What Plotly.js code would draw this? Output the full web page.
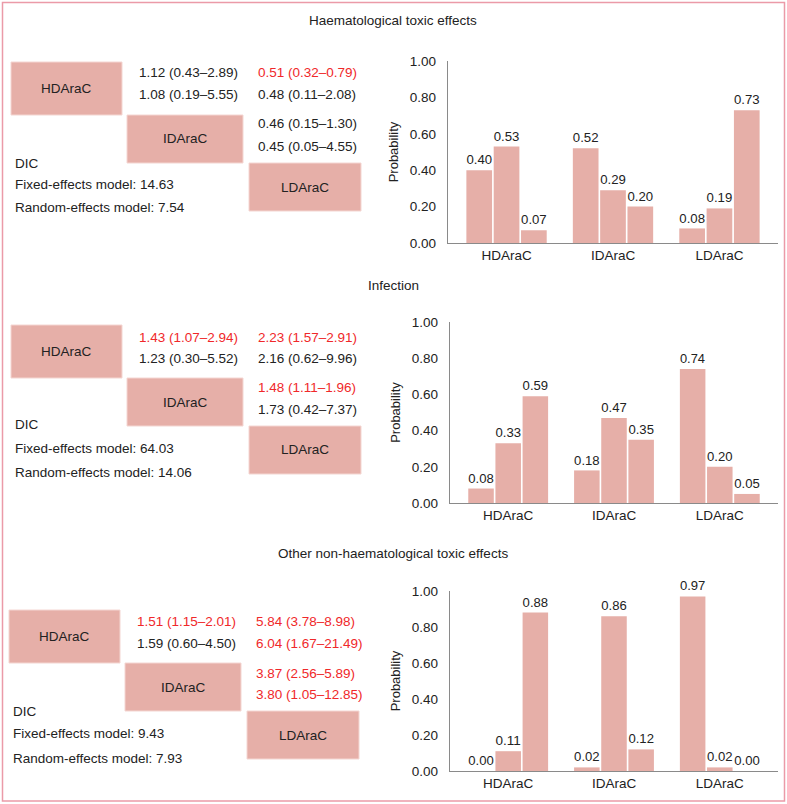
<!DOCTYPE html>
<html>
<head>
<meta charset="utf-8">
<script src="https://cdn.plot.ly/plotly-3.0.1.min.js"></script>
<style>
  html, body { margin: 0; padding: 0; background: #fff; }
  #chart { width: 787px; height: 804px; }
</style>
</head>
<body>
<div id="chart"></div>
<script>
// ---------- data ----------
const treatments = ['HDAraC', 'IDAraC', 'LDAraC'];
const panelTitles = ['Haematological toxic effects', 'Infection', 'Other non-haematological toxic effects'];

// probability of each rank (1st, 2nd, 3rd) per treatment
const haemRank1 = [0.40, 0.52, 0.08];
const haemRank2 = [0.53, 0.29, 0.19];
const haemRank3 = [0.07, 0.20, 0.73];

const infRank1 = [0.08, 0.18, 0.74];
const infRank2 = [0.33, 0.47, 0.20];
const infRank3 = [0.59, 0.35, 0.05];

const othRank1 = [0.00, 0.02, 0.97];
const othRank2 = [0.11, 0.86, 0.02];
const othRank3 = [0.88, 0.12, 0.00];

// league table texts: [HD vs ID fixed, HD vs ID random, HD vs LD fixed, HD vs LD random, ID vs LD fixed, ID vs LD random]
const haemLeague = ['1.12 (0.43–2.89)', '1.08 (0.19–5.55)', '0.51 (0.32–0.79)', '0.48 (0.11–2.08)', '0.46 (0.15–1.30)', '0.45 (0.05–4.55)'];
const haemSig    = [false, false, true, false, false, false];
const infLeague  = ['1.43 (1.07–2.94)', '1.23 (0.30–5.52)', '2.23 (1.57–2.91)', '2.16 (0.62–9.96)', '1.48 (1.11–1.96)', '1.73 (0.42–7.37)'];
const infSig     = [true, false, true, false, true, false];
const othLeague  = ['1.51 (1.15–2.01)', '1.59 (0.60–4.50)', '5.84 (3.78–8.98)', '6.04 (1.67–21.49)', '3.87 (2.56–5.89)', '3.80 (1.05–12.85)'];
const othSig     = [true, false, true, true, true, true];

const dicFixed  = ['14.63', '64.03', '9.43'];
const dicRandom = ['7.54', '14.06', '7.93'];

// ---------- styling ----------
const W = 787, H = 804;
const BAR = '#e6afa8';
const RED = '#f0282a';
const INK = '#222222';
const FONT = 'Liberation Sans, Arial, sans-serif';
const px = x => x / W;
const py = y => 1 - y / H;

const panels = [
  { r: [haemRank1, haemRank2, haemRank3], league: haemLeague, sig: haemSig,
    top: 61, bot: 243, xl: 448, titleY: 20, off: 0, lx: 0 },
  { r: [infRank1, infRank2, infRank3], league: infLeague, sig: infSig,
    top: 322, bot: 503, xl: 450, titleY: 285, off: 0, lx: 0 },
  { r: [othRank1, othRank2, othRank3], league: othLeague, sig: othSig,
    top: 591, bot: 771, xl: 450, titleY: 553, off: 0, lx: -2 }
];

// left-panel geometry per panel (box tops)
const geo = [
  { hdTop: 62, boxH: 53, txt: [72, 95, 124, 146], dic: [163, 184, 208] },
  { hdTop: 325, boxH: 53, txt: [337, 358, 387, 409], dic: [425, 448, 472] },
  { hdTop: 610, boxH: 53, txt: [621, 643, 673, 694], dic: [711, 733, 758] }
];

const data = [];
const layout = {
  width: W, height: H,
  margin: { l: 0, r: 0, t: 0, b: 0 },
  paper_bgcolor: '#fff', plot_bgcolor: '#fff',
  showlegend: false,
  barmode: 'group', bargap: 0.23, bargroupgap: 0.06,
  font: { family: FONT, size: 13.5, color: INK },
  shapes: [], annotations: []
};

panels.forEach((p, i) => {
  const n = i === 0 ? '' : String(i + 1);
  p.r.forEach((vals, k) => {
    data.push({
      type: 'bar', x: treatments, y: vals,
      xaxis: 'x' + n, yaxis: 'y' + n,
      marker: { color: BAR, line: { width: 0 } },
      text: vals.map(v => v.toFixed(2)), textposition: 'outside',
      textfont: { family: FONT, size: 13.5, color: INK },
      cliponaxis: false, hoverinfo: 'skip', name: 'Rank ' + (k + 1)
    });
  });
  layout['xaxis' + n] = {
    domain: [px(p.xl), px(778)], anchor: 'y' + n,
    range: [-0.55, 2.55], showline: true, linecolor: '#8a8a8a', linewidth: 1.2,
    ticks: '', showgrid: false, zeroline: false,
    tickfont: { family: FONT, size: 13.5, color: INK }, fixedrange: true
  };
  layout['yaxis' + n] = {
    domain: [py(p.bot), py(p.top)], anchor: 'x' + n,
    range: [0, 1], dtick: 0.2, tickformat: '.2f',
    showline: true, linecolor: '#8a8a8a', linewidth: 1.2,
    ticks: 'outside', ticklen: 8, tickcolor: 'rgba(0,0,0,0)',
    showgrid: false, zeroline: false,
    tickfont: { family: FONT, size: 13.5, color: INK },
    title: { text: 'Probability', font: { family: FONT, size: 13, color: INK }, standoff: 8 },
    fixedrange: true
  };

  // section title
  layout.annotations.push({
    xref: 'paper', yref: 'paper', x: px(393), y: py(p.titleY),
    text: panelTitles[i], showarrow: false, xanchor: 'center', yanchor: 'middle',
    font: { family: FONT, size: 13.5, color: INK }
  });

  // league table boxes
  const g = geo[i];
  const dx = p.lx;
  const boxes = [
    [11 + dx, 122 + dx, g.hdTop, g.hdTop + g.boxH],
    [127 + dx, 243 + dx, g.hdTop + g.boxH, g.hdTop + g.boxH + 48],
    [249 + dx, 361 + dx, g.hdTop + g.boxH + 48, g.hdTop + g.boxH + 96]
  ];
  boxes.forEach((b, k) => {
    layout.shapes.push({
      type: 'rect', xref: 'paper', yref: 'paper',
      x0: px(b[0]), x1: px(b[1]), y0: py(b[3]), y1: py(b[2]),
      fillcolor: BAR, line: { color: '#f4d6d2', width: 1 }, layer: 'below'
    });
    layout.annotations.push({
      xref: 'paper', yref: 'paper', x: px((b[0] + b[1]) / 2), y: py((b[2] + b[3]) / 2),
      text: treatments[k], showarrow: false, xanchor: 'center', yanchor: 'middle',
      font: { family: FONT, size: 13.5, color: INK }
    });
  });

  // league table cells
  const cells = [
    [137 + dx, g.txt[0]], [137 + dx, g.txt[1]],
    [256 + dx, g.txt[0]], [256 + dx, g.txt[1]],
    [256 + dx, g.txt[2]], [256 + dx, g.txt[3]]
  ];
  cells.forEach((c, k) => {
    layout.annotations.push({
      xref: 'paper', yref: 'paper', x: px(c[0]), y: py(c[1]),
      text: p.league[k], showarrow: false, xanchor: 'left', yanchor: 'middle',
      font: { family: FONT, size: 13.5, color: p.sig[k] ? RED : INK }
    });
  });

  // DIC
  const dicTexts = ['DIC', 'Fixed-effects model: ' + dicFixed[i], 'Random-effects model: ' + dicRandom[i]];
  dicTexts.forEach((t, k) => {
    layout.annotations.push({
      xref: 'paper', yref: 'paper', x: px(13 + dx), y: py(g.dic[k]),
      text: t, showarrow: false, xanchor: 'left', yanchor: 'middle',
      font: { family: FONT, size: 13.5, color: INK }
    });
  });
});

// outer frame
layout.shapes.push({
  type: 'rect', xref: 'paper', yref: 'paper',
  x0: px(2.5), x1: px(784.5), y0: py(801), y1: py(2.5),
  line: { color: '#eb9aa8', width: 1.5 }, fillcolor: 'rgba(0,0,0,0)', layer: 'above'
});

Plotly.newPlot('chart', data, layout, { displayModeBar: false, staticPlot: true });
</script>
</body>
</html>
